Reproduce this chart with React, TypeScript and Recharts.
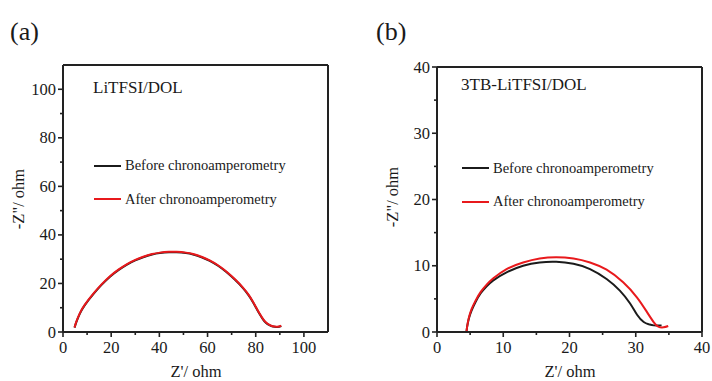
import React from 'react';
import { LineChart, Line, XAxis, YAxis } from 'recharts';

// ---- Panel (a): LiTFSI/DOL ----
const aBeforeX = [4.8, 5.5, 7, 9, 12.6, 16, 19.5, 23, 26.4, 30, 33.3, 37, 40.2, 44, 47.1, 51, 54, 57.5, 60.9, 64.5, 67.8, 71.5, 74.7, 77, 78.8, 80.3, 81.6, 83, 84.3, 85.7, 87.1, 89, 90.6];
const aBeforeY = [1.8, 4.0, 7.6, 11.0, 15.6, 19.4, 22.8, 25.5, 27.7, 29.5, 30.8, 31.9, 32.5, 32.85, 32.85, 32.5, 31.9, 30.8, 29.3, 27.2, 24.7, 21.4, 18.1, 15.2, 12.4, 9.7, 7.4, 5.2, 3.7, 2.8, 2.25, 2.1, 2.5];
const aAfterX = [4.8, 5.5, 7, 9, 12.6, 16, 19.5, 23, 26.4, 30, 33.3, 37, 40.2, 44, 47.1, 51, 54, 57.5, 60.9, 64.5, 67.8, 71.5, 74.7, 77, 78.8, 80.3, 81.6, 83, 84.3, 85.7, 87.1, 89, 90.6];
const aAfterY = [1.9, 4.2, 7.8, 11.2, 15.8, 19.6, 23.0, 25.7, 27.9, 29.7, 31.0, 32.1, 32.7, 33.05, 33.05, 32.7, 32.1, 31.0, 29.5, 27.4, 24.9, 21.6, 18.3, 15.4, 12.6, 9.9, 7.6, 5.4, 3.9, 2.9, 2.35, 2.2, 2.6];
const aTicks = [0, 10, 20, 30, 40, 50, 60, 70, 80, 90, 100];

// ---- Panel (b): 3TB-LiTFSI/DOL ----
const bBeforeX = [4.45, 4.55, 4.8, 5.2, 5.8, 6.6, 7.5, 8.5, 10.5, 13, 15.5, 18, 20.6, 23.1, 25.6, 27.6, 29.15, 30.2, 31.2, 32, 32.7, 33.9];
const bBeforeY = [0, 0.8, 2.0, 3.2, 4.5, 5.85, 6.9, 7.8, 9.0, 10.0, 10.5, 10.6, 10.3, 9.5, 8.0, 6.25, 4.3, 2.6, 1.5, 1.15, 1.0, 1.0];
const bAfterX = [4.45, 4.55, 4.8, 5.2, 5.8, 6.6, 7.5, 8.5, 10.5, 13, 15.5, 18, 20.6, 23.1, 25.6, 28.1, 30.2, 31.7, 32.7, 33.4, 34.2, 34.9];
const bAfterY = [0, 0.8, 2.1, 3.4, 4.7, 6.05, 7.15, 8.1, 9.5, 10.5, 11.1, 11.3, 11.1, 10.5, 9.4, 7.5, 5.2, 3.0, 1.5, 0.8, 0.7, 0.9];
const bTicks = [0, 5, 10, 15, 20, 25, 30, 35, 40];

const seriesNames = ['Before chronoamperometry', 'After chronoamperometry'];
const seriesColors = ['#1b1b1b', '#e8191c'];

const zip = (xs: number[], ys: number[]) => xs.map((x, i) => ({ x, y: ys[i] }));

const FONT = '"Liberation Serif", "Times New Roman", serif';
const AX = '#222';
const TXT = '#1a1a1a';

const makeYTick = (major: number) => (props: any) => {
  const { x, y, payload } = props;
  const v = payload.value;
  const isMajor = v % major === 0;
  return (
    <g>
      <line x1={x} x2={x - (isMajor ? 5 : 3)} y1={y} y2={y} stroke={AX} strokeWidth={1.6} />
      {isMajor && (
        <text x={x - 7} y={y} textAnchor="end" dominantBaseline="central" fontFamily={FONT} fontSize={16.5} fill={TXT}>
          {v}
        </text>
      )}
    </g>
  );
};

const makeXTick = (major: number) => (props: any) => {
  const { x, y, payload } = props;
  const v = payload.value;
  const isMajor = v % major === 0;
  return (
    <g>
      <line x1={x} x2={x} y1={y} y2={y + (isMajor ? 5 : 3)} stroke={AX} strokeWidth={1.6} />
      {isMajor && (
        <text x={x} y={y + 15} textAnchor="middle" dominantBaseline="central" fontFamily={FONT} fontSize={16.5} fill={TXT}>
          {v}
        </text>
      )}
    </g>
  );
};

type PanelProps = {
  left: number;
  margin: { top: number; right: number; bottom: number; left: number };
  domain: [number, number];
  ticks: number[];
  major: number;
  before: { x: number; y: number }[];
  after: { x: number; y: number }[];
};

const Panel = ({ left, margin, domain, ticks, major, before, after }: PanelProps) => (
  <div style={{ position: 'absolute', left, top: 0 }}>
    <LineChart
      width={356}
      height={381}
      margin={{ top: margin.top - 1, right: margin.right - 1, bottom: margin.bottom - 30, left: margin.left - 40 }}
    >
      <XAxis
        dataKey="x"
        type="number"
        domain={domain}
        ticks={ticks}
        interval={0}
        allowDataOverflow
        height={30}
        tickSize={0}
        tickMargin={0}
        tickLine={false}
        tick={makeXTick(major)}
        axisLine={{ stroke: AX, strokeWidth: 2 }}
      />
      <XAxis
        xAxisId="top"
        orientation="top"
        type="number"
        domain={domain}
        height={1}
        tick={false}
        tickLine={false}
        axisLine={{ stroke: AX, strokeWidth: 2 }}
      />
      <YAxis
        dataKey="y"
        type="number"
        domain={domain}
        ticks={ticks}
        interval={0}
        allowDataOverflow
        width={40}
        tickSize={0}
        tickMargin={0}
        tickLine={false}
        tick={makeYTick(major)}
        axisLine={{ stroke: AX, strokeWidth: 2 }}
      />
      <YAxis
        yAxisId="right"
        orientation="right"
        type="number"
        domain={domain}
        width={1}
        tick={false}
        tickLine={false}
        axisLine={{ stroke: AX, strokeWidth: 2 }}
      />
      <Line data={before} dataKey="y" type="natural" stroke={seriesColors[0]} strokeWidth={2} dot={false} isAnimationActive={false} name={seriesNames[0]} />
      <Line data={after} dataKey="y" type="natural" stroke={seriesColors[1]} strokeWidth={2} dot={false} isAnimationActive={false} name={seriesNames[1]} />
    </LineChart>
  </div>
);

const textStyle: React.CSSProperties = { position: 'absolute', fontFamily: FONT, color: TXT, whiteSpace: 'nowrap', lineHeight: 1 };

const LegendBlock = ({ left, top, rowTop, title }: { left: number; top: number; rowTop: number; title: string }) => (
  <>
    <div style={{ ...textStyle, left, top, fontSize: 17 }}>{title}</div>
    {seriesNames.map((n, i) => (
      <div key={n} style={{ ...textStyle, left: left + 1, top: rowTop + i * 33.6, fontSize: 14.5, height: 15, display: 'flex', alignItems: 'center' }}>
        <span style={{ display: 'inline-block', width: 27, height: 2, background: seriesColors[i], marginRight: 4 }} />
        <span>{n}</span>
      </div>
    ))}
  </>
);

export default function App() {
  return (
    <div style={{ position: 'absolute', left: 0, top: 0, width: 712, height: 381, background: '#fff', overflow: 'hidden' }}>
      <Panel
        left={0}
        margin={{ top: 65, right: 28, bottom: 49, left: 63 }}
        domain={[0, 110]}
        ticks={aTicks}
        major={20}
        before={zip(aBeforeX, aBeforeY)}
        after={zip(aAfterX, aAfterY)}
      />
      <Panel
        left={356}
        margin={{ top: 67, right: 10, bottom: 49, left: 81 }}
        domain={[0, 40]}
        ticks={bTicks}
        major={10}
        before={zip(bBeforeX, bBeforeY)}
        after={zip(bAfterX, bAfterY)}
      />
      <div style={{ ...textStyle, left: 10, top: 19, fontSize: 26 }}>(a)</div>
      <div style={{ ...textStyle, left: 376, top: 19, fontSize: 26 }}>(b)</div>
      <LegendBlock left={93} top={79} rowTop={158} title="LiTFSI/DOL" />
      <LegendBlock left={461} top={76} rowTop={160.5} title="3TB-LiTFSI/DOL" />
      <div style={{ ...textStyle, left: 196, top: 372, fontSize: 16.5, transform: 'translate(-50%, -50%)' }}>Z'/ ohm</div>
      <div style={{ ...textStyle, left: 570, top: 372, fontSize: 16.5, transform: 'translate(-50%, -50%)' }}>Z'/ ohm</div>
      <div style={{ ...textStyle, left: 19, top: 199, fontSize: 16.5, transform: 'translate(-50%, -50%) rotate(-90deg)' }}>-Z"/ ohm</div>
      <div style={{ ...textStyle, left: 393, top: 197, fontSize: 16.5, transform: 'translate(-50%, -50%) rotate(-90deg)' }}>-Z"/ ohm</div>
    </div>
  );
}
